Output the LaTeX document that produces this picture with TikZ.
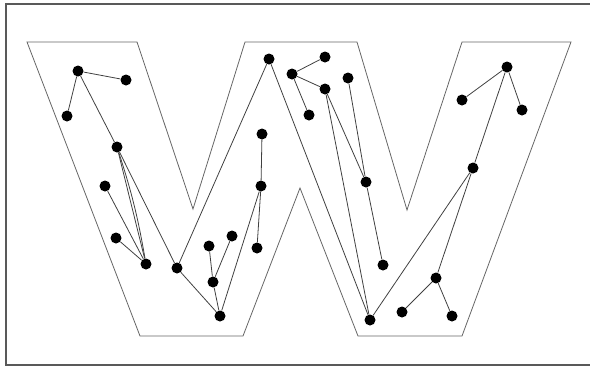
\documentclass[tikz,border=0pt]{standalone}
\usepackage{tikz}

\begin{document}
\begin{tikzpicture}[x=1pt, y=-1pt,
        dot/.style={circle, fill=black, inner sep=0pt, minimum size=11pt},
        edge/.style={black!75, line width=0.8pt},
        outline/.style={black!60, line width=0.8pt},
        frame/.style={black!65, line width=1.8pt}
    ]
    \useasboundingbox (0,0) rectangle (590,367);
    \draw[frame] (590,4) -- (6,4) -- (6,365) -- (590,365);

    % the letter
    \draw[outline] (27,42) -- (137,42) -- (193,209) -- (245,42) -- (357,42) -- (407,210)
        -- (462,42) -- (571,42) -- (462,336) -- (358,336) -- (300,188) -- (243,336)
        -- (140,336) -- cycle;

    % points
    \node[dot] (a) at (78,71) {};
    \node[dot] (b) at (126,80) {};
    \node[dot] (c) at (67,116) {};
    \node[dot] (d) at (117,147) {};
    \node[dot] (h) at (105,186) {};
    \node[dot] (s) at (116,238) {};
    \node[dot] (t) at (146,264) {};
    \node[dot] (u) at (177,268) {};
    \node[dot] (e) at (269,59) {};
    \node[dot] (g) at (262,134) {};
    \node[dot] (i) at (261,186) {};
    \node[dot] (z) at (257,248) {};
    \node[dot] (v) at (209,246) {};
    \node[dot] (w) at (232,236) {};
    \node[dot] (x) at (213,282) {};
    \node[dot] (y) at (220,316) {};
    \node[dot] (f) at (292,74) {};
    \node[dot] (j) at (325,57) {};
    \node[dot] (k) at (325,89) {};
    \node[dot] (l) at (309,115) {};
    \node[dot] (m) at (348,78) {};
    \node[dot] (n) at (366,182) {};
    \node[dot] (aa) at (383,265) {};
    \node[dot] (ae) at (370,320) {};
    \node[dot] (o) at (507,67) {};
    \node[dot] (p) at (462,100) {};
    \node[dot] (q) at (522,110) {};
    \node[dot] (r) at (473,168) {};
    \node[dot] (ab) at (436,278) {};
    \node[dot] (ac) at (402,312) {};
    \node[dot] (ad) at (452,316) {};

    % tree edges
    \draw[edge] (a) -- (b);
    \draw[edge] (a) -- (c);
    \draw[edge] (a) -- (d);
    \draw[edge] (d) -- (t);
    \draw[edge] (d) to[bend left=4] (t);
    \draw[edge] (d) -- (u);
    \draw[edge] (h) -- (t);
    \draw[edge] (s) -- (t);
    \draw[edge] (u) -- (e);
    \draw[edge] (u) -- (y);
    \draw[edge] (e) -- (ae);
    \draw[edge] (g) -- (i);
    \draw[edge] (i) -- (z);
    \draw[edge] (i) -- (y);
    \draw[edge] (v) -- (x);
    \draw[edge] (w) -- (x);
    \draw[edge] (x) -- (y);
    \draw[edge] (f) -- (j);
    \draw[edge] (f) -- (k);
    \draw[edge] (f) -- (l);
    \draw[edge] (k) -- (n);
    \draw[edge] (k) -- (ae);
    \draw[edge] (m) -- (n);
    \draw[edge] (n) -- (aa);
    \draw[edge] (ae) -- (r);
    \draw[edge] (r) -- (o);
    \draw[edge] (o) -- (p);
    \draw[edge] (o) -- (q);
    \draw[edge] (r) -- (ab);
    \draw[edge] (ab) -- (ac);
    \draw[edge] (ab) -- (ad);
\end{tikzpicture}
\end{document}
